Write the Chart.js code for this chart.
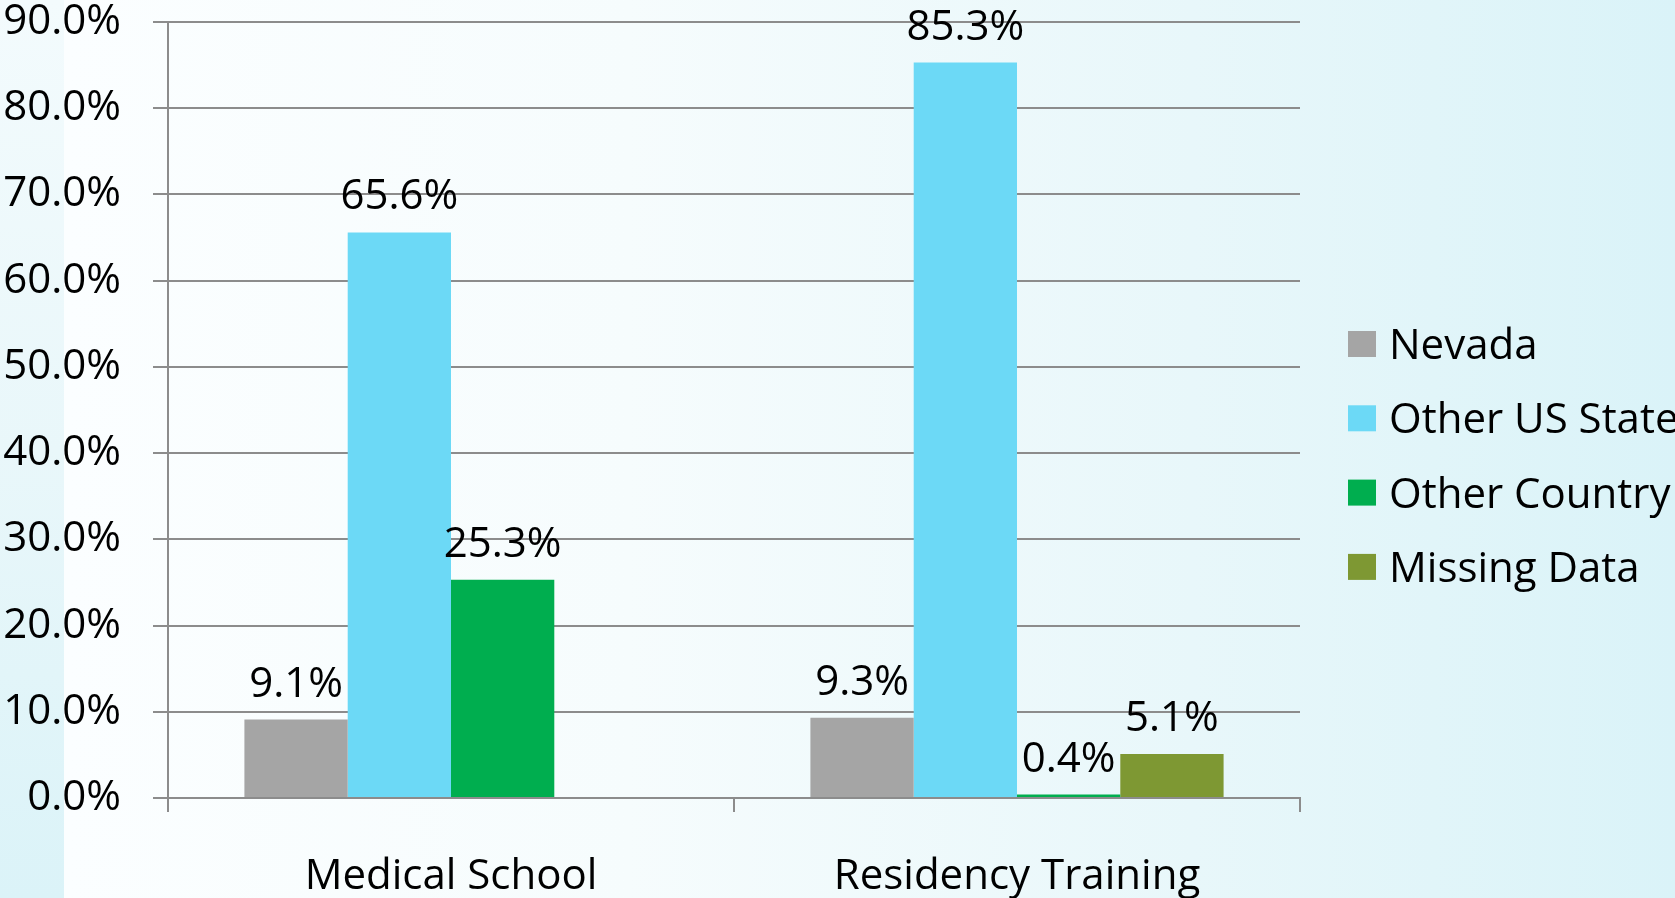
<!DOCTYPE html>
<html lang="en">
  <head>
    <meta charset="UTF-8" />
    <title>Medical School and Residency Training Location</title>
    <script src="https://cdn.jsdelivr.net/npm/chart.js@4.4.1/dist/chart.umd.min.js"></script>
    <style>
      html, body { margin: 0; padding: 0; overflow: hidden; background: #fff; }
      #wrap { width: 1675px; height: 898px; }
    </style>
  </head>
  <body>
    <div id="wrap"><canvas id="chart" width="1675" height="898"></canvas></div>

    <script>
      // ---- data ----
      const categories = ["Medical School", "Residency Training"];
      const seriesNames = ["Nevada", "Other US State", "Other Country", "Missing Data"];
      const nevada = [9.1, 9.3];
      const otherUSState = [65.6, 85.3];
      const otherCountry = [25.3, 0.4];
      const missingData = [null, 5.1];
      const seriesColors = ["#a5a5a5", "#6cd9f6", "#00ae4f", "#7e9833"];
      const yMax = 90;
      const yStep = 10;

      const FONT = "'Open Sans', 'Liberation Sans', sans-serif";
      const GRID = "#8c8c8c";

      // page background: pale strip on the left, white -> cyan wash across
      const backgroundPlugin = {
        id: "slideBackground",
        beforeDraw(chart) {
          const { ctx, width, height } = chart;
          ctx.save();
          const g = ctx.createLinearGradient(64, 0, width, 0);
          g.addColorStop(0, "#fbfeff");
          g.addColorStop(0.35, "#f6fcfd");
          g.addColorStop(0.7, "#e8f7fa");
          g.addColorStop(1, "#daf3f8");
          ctx.fillStyle = g;
          ctx.fillRect(0, 0, width, height);
          const s = ctx.createLinearGradient(0, 0, 0, height);
          s.addColorStop(0, "#f3fbfd");
          s.addColorStop(0.5, "#e9f7fa");
          s.addColorStop(1, "#dbf3f8");
          ctx.fillStyle = s;
          ctx.fillRect(0, 0, 64, height);
          ctx.restore();
        },
      };

      // value labels above each bar
      const valueLabels = {
        id: "valueLabels",
        afterDatasetsDraw(chart) {
          const { ctx } = chart;
          ctx.save();
          ctx.font = `42px ${FONT}`;
          ctx.fillStyle = "#000";
          ctx.textAlign = "center";
          ctx.textBaseline = "alphabetic";
          chart.data.datasets.forEach((ds, i) => {
            chart.getDatasetMeta(i).data.forEach((bar, j) => {
              const v = ds.data[j];
              if (v == null) return;
              ctx.fillText(v.toFixed(1) + "%", bar.x, bar.y - 23);
            });
          });
          ctx.restore();
        },
      };

      // legend on the right, runs off the edge like the original
      const sideLegend = {
        id: "sideLegend",
        afterDraw(chart) {
          const { ctx } = chart;
          ctx.save();
          ctx.font = `42px ${FONT}`;
          ctx.textBaseline = "alphabetic";
          chart.data.datasets.forEach((ds, i) => {
            const cy = 344 + i * 74.3;
            ctx.fillStyle = ds.backgroundColor;
            ctx.fillRect(1348, cy - 13, 28, 26);
            ctx.fillStyle = "#000";
            ctx.fillText(ds.label, 1389, cy + 15);
          });
          ctx.restore();
        },
      };

      const seriesData = [nevada, otherUSState, otherCountry, missingData];

      new Chart(document.getElementById("chart"), {
        type: "bar",
        data: {
          labels: categories,
          datasets: seriesNames.map((name, i) => ({
            label: name,
            data: seriesData[i],
            backgroundColor: seriesColors[i],
            borderWidth: 0,
            barPercentage: 1.0,
            categoryPercentage: 0.73,
          })),
        },
        plugins: [backgroundPlugin, valueLabels, sideLegend],
        options: {
          responsive: false,
          animation: false,
          layout: { padding: { left: 0, right: 375, top: 0, bottom: 0 } },
          scales: {
            x: {
              grid: {
                drawOnChartArea: false,
                drawTicks: true,
                tickLength: 14,
                color: GRID,
                lineWidth: 2,
              },
              border: { display: true, color: GRID, width: 2 },
              ticks: {
                color: "#000",
                font: { family: FONT, size: 42, lineHeight: 1.2 },
                padding: 40,
              },
              // chart.js counts tick padding twice; pin the axis height
              afterFit: (s) => {
                s.height = 100;
              },
            },
            y: {
              min: 0,
              max: yMax,
              grid: { color: GRID, lineWidth: 2, tickLength: 15 },
              border: { display: true, color: GRID, width: 2 },
              ticks: {
                stepSize: yStep,
                color: "#000",
                font: { family: FONT, size: 42, lineHeight: 1.0 },
                padding: 32,
                callback: (v) => v.toFixed(1) + "%",
              },
              afterFit: (s) => {
                s.width = 168;
                s.paddingTop = 22;
                s.paddingBottom = 0;
              },
            },
          },
          plugins: {
            legend: { display: false },
            tooltip: { enabled: false },
          },
        },
      });
    </script>
  </body>
</html>
